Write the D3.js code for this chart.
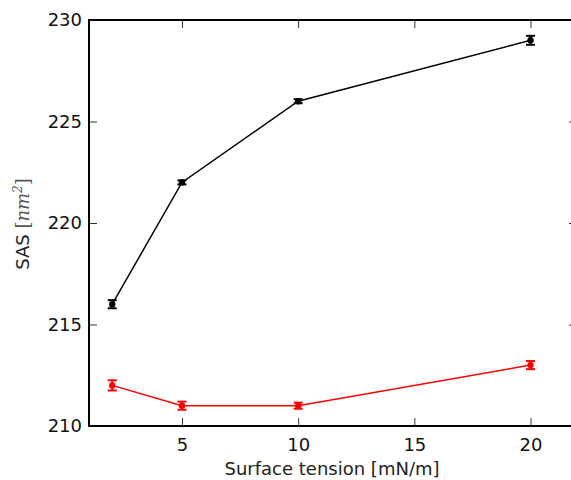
<!DOCTYPE html>
<html>
<head>
<meta charset="utf-8">
<script src="https://cdn.jsdelivr.net/npm/d3@7"></script>
<style>
  html, body { margin: 0; padding: 0; background: #fff; overflow: hidden; }
  svg { display: block; font-family: "DejaVu Sans", sans-serif; }
</style>
</head>
<body>
<svg id="chart"></svg>
<script>
// surface tension values (mN/m)
const tension = [2, 5, 10, 20];
// SAS values, black series and red series
const sasBlack = [216, 222, 226, 229];
const errBlack = [0.2, 0.1, 0.1, 0.22];
const sasRed = [212, 211, 211, 213];
const errRed = [0.25, 0.2, 0.15, 0.2];
const xTicks = [5, 10, 15, 20];
const yTicks = [210, 215, 220, 225, 230];

const margin = { top: 20, left: 89 };
const width = 488, height = 406;

const svg = d3.select('#chart')
  .attr('width', 600)
  .attr('height', 480);

const g = svg.append('g')
  .attr('transform', `translate(${margin.left},${margin.top})`);

const x = d3.scaleLinear().domain([1, 22]).range([0, width]);
const y = d3.scaleLinear().domain([210, 230]).range([height, 0]);

// frame
g.append('rect')
  .attr('width', width).attr('height', height)
  .attr('fill', 'none').attr('stroke', '#000').attr('stroke-width', 2);

// inward ticks, bottom + top
const tickLen = 8;
g.append('g')
  .attr('transform', `translate(0,${height})`)
  .call(d3.axisBottom(x).tickValues(xTicks).tickSizeInner(-tickLen).tickSizeOuter(0).tickPadding(12))
  .call(a => a.select('.domain').remove())
  .call(a => a.selectAll('text').attr('font-size', 18).attr('fill', '#111').attr('font-family', 'DejaVu Sans'));
g.append('g')
  .call(d3.axisTop(x).tickValues(xTicks).tickSizeInner(-tickLen).tickSizeOuter(0).tickFormat(''))
  .call(a => a.select('.domain').remove());

// inward ticks, left + right
g.append('g')
  .call(d3.axisLeft(y).tickValues(yTicks).tickSizeInner(-tickLen).tickSizeOuter(0).tickPadding(7))
  .call(a => a.select('.domain').remove())
  .call(a => a.selectAll('text').attr('font-size', 18).attr('fill', '#111').attr('font-family', 'DejaVu Sans'));
g.append('g')
  .attr('transform', `translate(${width},0)`)
  .call(d3.axisRight(y).tickValues(yTicks).tickSizeInner(-tickLen).tickSizeOuter(0).tickFormat(''))
  .call(a => a.select('.domain').remove());

g.selectAll('.tick line').attr('stroke', '#000').attr('stroke-width', 0.8);

function drawSeries(vals, errs, color) {
  const pts = tension.map((t, i) => ({ t, v: vals[i], e: errs[i] }));
  const line = d3.line().x(d => x(d.t)).y(d => y(d.v));
  g.append('path')
    .datum(pts)
    .attr('d', line)
    .attr('fill', 'none')
    .attr('stroke', color)
    .attr('stroke-width', 1.5);
  const eb = g.append('g').selectAll('g').data(pts).enter().append('g');
  eb.append('line')
    .attr('x1', d => x(d.t)).attr('x2', d => x(d.t))
    .attr('y1', d => y(d.v - d.e)).attr('y2', d => y(d.v + d.e))
    .attr('stroke', color).attr('stroke-width', 2);
  eb.selectAll('.cap')
    .data(d => [d.v - d.e, d.v + d.e].map(v => ({ t: d.t, v })))
    .enter().append('line')
    .attr('x1', d => x(d.t) - 4.5).attr('x2', d => x(d.t) + 4.5)
    .attr('y1', d => y(d.v)).attr('y2', d => y(d.v))
    .attr('stroke', color).attr('stroke-width', 2);
  g.append('g').selectAll('circle').data(pts).enter().append('circle')
    .attr('cx', d => x(d.t)).attr('cy', d => y(d.v))
    .attr('r', 3.2).attr('fill', color);
}

drawSeries(sasBlack, errBlack, '#000');
drawSeries(sasRed, errRed, '#ff0000');

// axis labels
svg.append('text')
  .attr('x', 332).attr('y', 475)
  .attr('text-anchor', 'middle')
  .attr('font-size', 18).attr('fill', '#222')
  .text('Surface tension [mN/m]');

const yl = svg.append('text')
  .attr('transform', 'translate(29,224) rotate(-90)')
  .attr('text-anchor', 'middle')
  .attr('font-size', 18).attr('fill', '#222');
yl.append('tspan').text('SAS ');
yl.append('tspan').attr('font-family', 'DejaVu Serif').attr('fill', '#555').text('[');
yl.append('tspan').attr('font-family', 'DejaVu Serif').attr('font-style', 'italic').attr('fill', '#555').text('nm');
yl.append('tspan').attr('font-family', 'DejaVu Serif').attr('font-style', 'italic').attr('fill', '#555')
  .attr('font-size', 12).attr('dy', -7).text('2');
yl.append('tspan').attr('font-family', 'DejaVu Serif').attr('fill', '#555').attr('dy', 7).text(']');
</script>
</body>
</html>
